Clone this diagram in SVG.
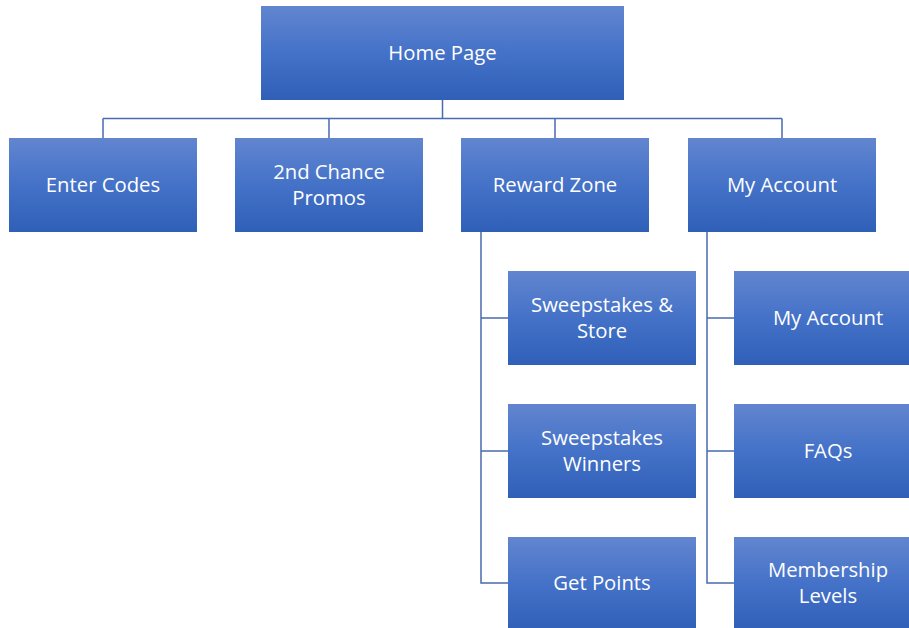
<svg xmlns="http://www.w3.org/2000/svg" width="909" height="628" viewBox="0 0 909 628">
  <defs>
    <linearGradient id="boxFill" x1="0" y1="0" x2="0" y2="1">
      <stop offset="0" stop-color="#6285cf"/>
      <stop offset="0.5" stop-color="#4472c8"/>
      <stop offset="1" stop-color="#305fb8"/>
    </linearGradient>
    <style>
      .box { fill: url(#boxFill); }
      .lbl { fill: #ffffff; font-family: "Open Sans", "Liberation Sans", Arial, sans-serif; font-size: 20.3px; text-anchor: middle; dominant-baseline: central; }
      .conn { fill: none; stroke: #4a6bb0; stroke-width: 1.5; }
    </style>
  </defs>
  <rect width="909" height="628" fill="#ffffff"/>

  <g id="connectors">
    <path class="conn" d="M442.5 100 V118.5 M103 118.5 H782 M103 118.5 V138 M329 118.5 V138 M555 118.5 V138 M782 118.5 V138"/>
    <path class="conn" d="M481 232 V583 H508 M481 318 H508 M481 451 H508"/>
    <path class="conn" d="M707 232 V583 H734 M707 318 H734 M707 451 H734"/>
  </g>

  <g id="home-page">
    <rect class="box" x="261" y="6" width="363" height="94"/>
    <text class="lbl" x="442.5" y="52">Home Page</text>
  </g>

  <g id="enter-codes">
    <rect class="box" x="9" y="138" width="188" height="94"/>
    <text class="lbl" x="103" y="184">Enter Codes</text>
  </g>

  <g id="second-chance-promos">
    <rect class="box" x="235" y="138" width="188" height="94"/>
    <text class="lbl" x="329" y="171">2nd Chance</text>
    <text class="lbl" x="329" y="197">Promos</text>
  </g>

  <g id="reward-zone">
    <rect class="box" x="461" y="138" width="188" height="94"/>
    <text class="lbl" x="555" y="184">Reward Zone</text>
  </g>

  <g id="my-account">
    <rect class="box" x="688" y="138" width="188" height="94"/>
    <text class="lbl" x="782" y="184">My Account</text>
  </g>

  <g id="sweepstakes-store">
    <rect class="box" x="508" y="271" width="188" height="94"/>
    <text class="lbl" x="602" y="304">Sweepstakes &amp;</text>
    <text class="lbl" x="602" y="330">Store</text>
  </g>

  <g id="sweepstakes-winners">
    <rect class="box" x="508" y="404" width="188" height="94"/>
    <text class="lbl" x="602" y="437">Sweepstakes</text>
    <text class="lbl" x="602" y="463">Winners</text>
  </g>

  <g id="get-points">
    <rect class="box" x="508" y="537" width="188" height="94"/>
    <text class="lbl" x="602" y="582">Get Points</text>
  </g>

  <g id="my-account-page">
    <rect class="box" x="734" y="271" width="188" height="94"/>
    <text class="lbl" x="828" y="317">My Account</text>
  </g>

  <g id="faqs">
    <rect class="box" x="734" y="404" width="188" height="94"/>
    <text class="lbl" x="828" y="450">FAQs</text>
  </g>

  <g id="membership-levels">
    <rect class="box" x="734" y="537" width="188" height="94"/>
    <text class="lbl" x="828" y="569">Membership</text>
    <text class="lbl" x="828" y="595">Levels</text>
  </g>
</svg>
